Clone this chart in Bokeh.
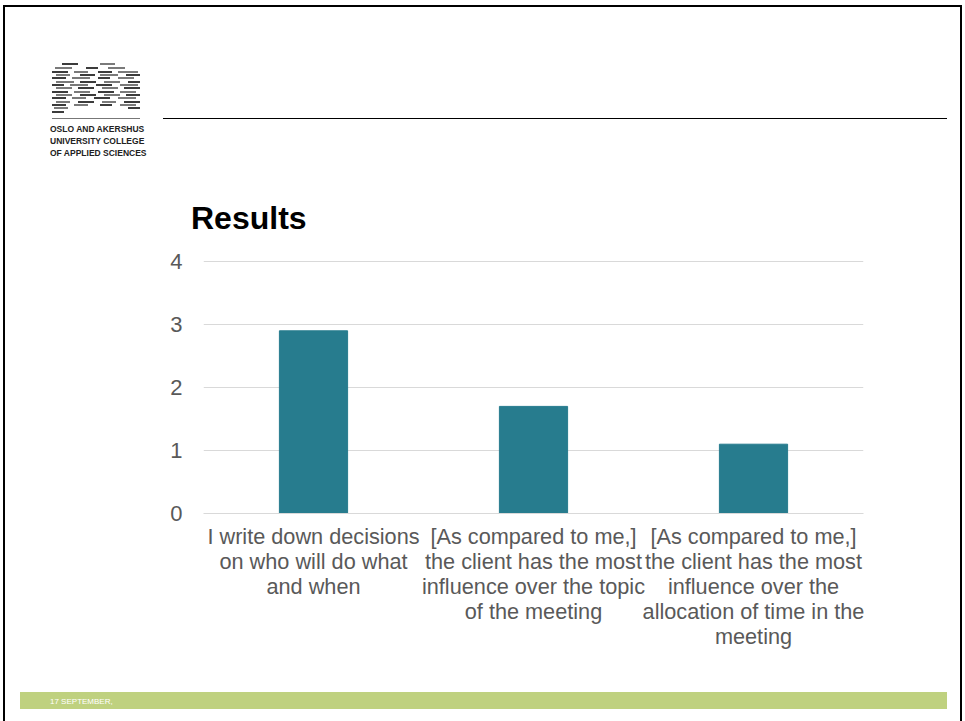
from bokeh.plotting import figure
from bokeh.models import Range1d, Div, GridBox
from bokeh.embed import file_html
from bokeh.resources import INLINE

categories = [
    "I write down decisions\non who will do what\nand when",
    "[As compared to me,]\nthe client has the most\ninfluence over the topic\nof the meeting",
    "[As compared to me,]\nthe client has the most\ninfluence over the\nallocation of time in the\nmeeting",
]
values = [2.9, 1.7, 1.1]
y_ticks = [0, 1, 2, 3, 4]

W, H = 965, 721
FL, FR, FT, FB = 203, 863, 260, 513

p = figure(width=W, height=H, x_range=categories, y_range=Range1d(0, 4.016),
           output_backend="svg", toolbar_location=None,
           min_border_left=FL, min_border_right=W - FR,
           min_border_top=FT, min_border_bottom=H - FB)
p.outline_line_color = None
p.background_fill_alpha = 0
p.border_fill_alpha = 0
p.vbar(x=categories, top=values, width=0.31, color="#277C8E")

p.yaxis.ticker = y_ticks
p.yaxis.axis_line_color = None
p.yaxis.major_tick_line_color = None
p.yaxis.minor_tick_line_color = None
p.yaxis.major_label_text_font = "Liberation Sans"
p.yaxis.major_label_text_font_size = "22px"
p.yaxis.major_label_text_color = "#595959"
p.yaxis.major_label_standoff = 15

p.xaxis.axis_line_color = "#d9d9d9"
p.xaxis.major_tick_line_color = None
p.xaxis.major_label_text_font = "Liberation Sans"
p.xaxis.major_label_text_font_size = "21.7px"
p.xaxis.major_label_text_color = "#595959"
p.xaxis.major_label_standoff = 4
p.xaxis.major_label_text_line_height = 1.0
p.xgrid.grid_line_color = None
p.ygrid.grid_line_color = "#d9d9d9"

# ---- slide decoration (logo, rules, title, footer) as HTML underneath the plot ----
def box(x0, y0, x1, y1, color):
    return (f'<div style="position:absolute;left:{x0}px;top:{y0}px;'
            f'width:{x1 - x0}px;height:{y1 - y0}px;background:{color};"></div>')


def txt(x, y, text, size, color="black", weight="normal", family="'Liberation Sans'"):
    return (f'<div style="position:absolute;left:{x}px;top:{y}px;font-family:{family};'
            f'font-size:{size}px;color:{color};font-weight:{weight};line-height:1;'
            f'white-space:nowrap;">{text}</div>')


logo_rows = [(63, [(62, 78), (100, 115)]),
             (67, [(55, 72), (86, 98), (108, 125)]),
             (71, [(52, 68), (74, 88), (98, 112), (118, 138)]),
             (74, [(56, 70), (80, 95), (100, 118), (126, 140)]),
             (77, [(52, 66), (72, 90), (98, 110), (118, 134)]),
             (81, [(56, 74), (80, 96), (104, 120), (128, 140)]),
             (84, [(52, 64), (70, 88), (96, 112), (120, 138)]),
             (87, [(56, 72), (78, 94), (102, 118), (124, 140)]),
             (91, [(52, 68), (74, 90), (98, 114), (120, 136)]),
             (94, [(56, 72), (80, 96), (104, 120), (126, 140)]),
             (97, [(52, 66), (72, 86), (94, 110), (118, 136)]),
             (101, [(56, 70), (78, 94), (102, 116), (124, 140)]),
             (104, [(52, 66), (74, 88), (100, 112), (120, 136)]),
             (107, [(54, 68), (128, 140)]),
             (111, [(52, 64)])]

parts = []
parts.append(box(3, 5, 962, 7, "#000"))
parts.append(box(3, 5, 5, 721, "#000"))
parts.append(box(960, 5, 962, 721, "#000"))
parts.append(box(163, 118, 947, 119, "#000"))
for i, (yy, segs) in enumerate(logo_rows):
    for j, (a, b) in enumerate(segs):
        col = "#3c3c3c" if (i + j) % 2 == 0 else "#7a7a7a"
        parts.append(box(a, yy, b, yy + 1.6, col))
parts.append(box(52, 118, 140, 119, "#777"))
narrow = "'Liberation Sans Narrow','Liberation Sans'"
parts.append(txt(50, 125, "OSLO AND AKERSHUS", 8.5, color="#222", weight="bold", family=narrow))
parts.append(txt(50, 137, "UNIVERSITY COLLEGE", 8.5, color="#222", weight="bold", family=narrow))
parts.append(txt(50, 149, "OF APPLIED SCIENCES", 8.5, color="#222", weight="bold", family=narrow))
parts.append(txt(191, 202, "Results", 32, weight="bold"))
parts.append(box(20, 692, 947, 709, "#BFD17F"))
parts.append('<div style="position:absolute;left:50px;top:697px;font-family:\'Liberation Sans\';'
             'font-size:8px;line-height:1.25;color:#fff;white-space:nowrap;">'
             '17 SEPTEMBER,<br>2017</div>')

deco = Div(text='<div style="position:relative;width:965px;height:721px;">' + "".join(parts) + "</div>",
           width=W, height=H, margin=0)

layout = GridBox(children=[(deco, 0, 0), (p, 0, 0)])

open("out.html", "w").write(file_html(layout, INLINE))
